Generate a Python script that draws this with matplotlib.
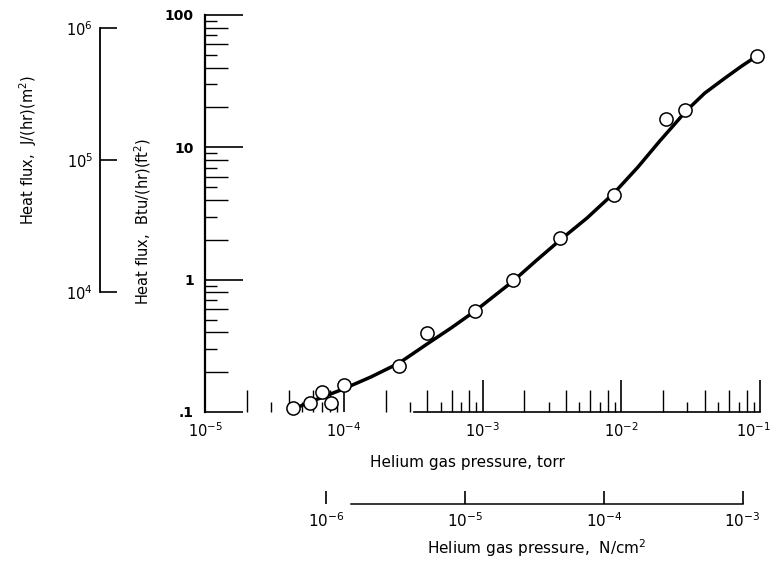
import matplotlib
matplotlib.use('Agg')
import matplotlib.pyplot as plt
from matplotlib.ticker import FixedLocator, FixedFormatter, LogLocator, NullLocator, NullFormatter
from matplotlib.transforms import ScaledTranslation

# measured points: helium pressure (torr) vs heat flux (Btu/(hr)(ft^2))
pressure_torr = [4.3e-5, 5.7e-5, 7.0e-5, 8.1e-5, 1.0e-4, 2.5e-4, 4.0e-4,
                 8.8e-4, 1.66e-3, 3.6e-3, 8.9e-3, 2.1e-2, 2.9e-2, 9.5e-2]
heat_flux_btu = [0.107, 0.117, 0.141, 0.117, 0.160, 0.222, 0.394,
                 0.58, 0.99, 2.06, 4.35, 16.4, 19.1, 49.0]

# faired curve
curve_torr = [4.31e-5, 6.2e-5, 9.9e-5, 1.57e-4, 2.5e-4, 3.98e-4, 5.93e-4,
              8.83e-4, 1.66e-3, 2.47e-3, 3.62e-3, 5.66e-3, 8.87e-3, 1.32e-2,
              1.90e-2, 2.32e-2, 2.93e-2, 4.0e-2, 5.6e-2, 7.4e-2, 9.5e-2]
curve_btu = [0.105, 0.123, 0.149, 0.184, 0.234, 0.326, 0.431,
             0.579, 0.975, 1.41, 1.99, 2.92, 4.51, 7.10,
             11.2, 14.2, 18.8, 25.7, 33.4, 41.2, 49.0]

x_ticks = [1e-5, 1e-4, 1e-3, 1e-2, 1e-1]
x_tick_labels = [r'$\mathregular{10^{-5}}$', r'$\mathregular{10^{-4}}$', r'$\mathregular{10^{-3}}$',
                 r'$\mathregular{10^{-2}}$', r'$\mathregular{10^{-1}}$']
y_ticks = [0.1, 1, 10, 100]
y_tick_labels = ['.1', '1', '10', '100']

# second scales (SI units)
TORR_TO_N_CM2 = 0.0133322
si_x_ticks = [1e-6, 1e-5, 1e-4, 1e-3]
si_x_labels = [r'$\mathregular{10^{-6}}$', r'$\mathregular{10^{-5}}$', r'$\mathregular{10^{-4}}$',
               r'$\mathregular{10^{-3}}$']
si_y_ticks = [1e4, 1e5, 1e6]
si_y_labels = [r'$\mathregular{10^{4}}$', r'$\mathregular{10^{5}}$', r'$\mathregular{10^{6}}$']

W, H = 776, 562


def box(left, top, right, bottom):
    """pixel box -> figure fraction rect"""
    return [left / W, 1 - bottom / H, (right - left) / W, (bottom - top) / H]


fig = plt.figure(figsize=(W / 100, H / 100), dpi=100)

# odd minor ticks (short) sit on their own invisible axes behind the main one
ax_odd = fig.add_axes(box(205, 15, 760, 412), frameon=False)
ax_odd.set_xscale('log')
ax_odd.set_yscale('log')
ax_odd.set_xlim(1e-5, 1e-1)
ax_odd.set_ylim(0.1, 100)
for axis in (ax_odd.xaxis, ax_odd.yaxis):
    axis.set_major_locator(NullLocator())
    axis.set_minor_locator(LogLocator(base=10, subs=(3, 5, 7, 9)))
    axis.set_minor_formatter(NullFormatter())
ax_odd.tick_params(axis='x', which='minor', direction='in', length=7.5, width=1.0)
ax_odd.tick_params(axis='y', which='minor', direction='in', length=8.5, width=1.0)

ax = fig.add_axes(box(205, 15, 760, 412))
ax.patch.set_visible(False)
ax.set_xscale('log')
ax.set_yscale('log')
ax.set_xlim(1e-5, 1e-1)
ax.set_ylim(0.1, 100)

ax.plot(curve_torr, curve_btu, color='black', lw=2.5, solid_capstyle='round',
        solid_joinstyle='round', zorder=2)
ax.plot(pressure_torr, heat_flux_btu, 'o', ms=9.5, mfc='white', mec='black', mew=1.1,
        zorder=3, clip_on=False)

for s in ('top', 'right'):
    ax.spines[s].set_visible(False)
ax.spines['left'].set_linewidth(1.6)
ax.spines['bottom'].set_linewidth(1.2)
ax.spines['bottom'].set_bounds(3.2e-4, 1e-1)

ax.xaxis.set_major_locator(FixedLocator(x_ticks))
ax.xaxis.set_major_formatter(FixedFormatter(x_tick_labels))
ax.xaxis.set_minor_locator(LogLocator(base=10, subs=(2, 4, 6, 8)))
ax.xaxis.set_minor_formatter(NullFormatter())
ax.yaxis.set_major_locator(FixedLocator(y_ticks))
ax.yaxis.set_major_formatter(FixedFormatter(y_tick_labels))
ax.yaxis.set_minor_locator(LogLocator(base=10, subs=(2, 4, 6, 8)))
ax.yaxis.set_minor_formatter(NullFormatter())

ax.tick_params(axis='x', which='major', direction='in', length=23, width=1.2, pad=7, labelsize=10.5)
ax.tick_params(axis='x', which='minor', direction='in', length=15.5, width=1.0)
ax.tick_params(axis='y', which='major', direction='in', length=27, width=1.2, pad=8, labelsize=10)
ax.tick_params(axis='y', which='minor', direction='in', length=16.5, width=1.0)
for lab in ax.get_yticklabels():
    lab.set_fontweight('bold')

# the last torr label sits a little left of its tick, as in the original
last = ax.xaxis.get_majorticklabels()[-1]
last.set_transform(last.get_transform() + ScaledTranslation(-7 / 100, 0, fig.dpi_scale_trans))

# J/(hr)(m^2) scale on the far left
ax_j = fig.add_axes(box(100, 28, 101, 292))
ax_j.patch.set_visible(False)
for s in ('top', 'right', 'bottom'):
    ax_j.spines[s].set_visible(False)
ax_j.spines['left'].set_linewidth(1.3)
ax_j.xaxis.set_visible(False)
ax_j.set_yscale('log')
ax_j.set_ylim(1e4, 1e6)
ax_j.yaxis.set_major_locator(FixedLocator(si_y_ticks))
ax_j.yaxis.set_major_formatter(FixedFormatter(si_y_labels))
ax_j.yaxis.set_minor_locator(NullLocator())
ax_j.tick_params(axis='y', direction='in', length=12, width=1.2, pad=5, labelsize=10.5)

# N/cm^2 scale under the torr axis
ax_n = fig.add_axes(box(205, 503, 760, 504))
ax_n.patch.set_visible(False)
for s in ('top', 'right', 'left'):
    ax_n.spines[s].set_visible(False)
ax_n.spines['bottom'].set_linewidth(1.1)
ax_n.yaxis.set_visible(False)
ax_n.set_xscale('log')
ax_n.set_xlim(1e-5 * TORR_TO_N_CM2, 1e-1 * TORR_TO_N_CM2)
ax_n.spines['bottom'].set_bounds(1.5e-6, 1e-3)
ax_n.xaxis.set_major_locator(FixedLocator(si_x_ticks))
ax_n.xaxis.set_major_formatter(FixedFormatter(si_x_labels))
ax_n.xaxis.set_minor_locator(NullLocator())
ax_n.tick_params(axis='x', direction='in', length=9.5, width=1.2, pad=5, labelsize=11)

# axis titles
fig.text(467 / W, 1 - 462 / H, 'Helium gas pressure, torr', ha='center', va='center', fontsize=11)
fig.text(537 / W, 1 - 548 / H, r'Helium gas pressure,  N/cm$^2$', ha='center', va='center', fontsize=11)
fig.text(143 / W, 1 - 221 / H, r'Heat flux,  Btu/(hr)(ft$^2$)', rotation=90,
         ha='center', va='center', fontsize=10.5)
fig.text(28 / W, 1 - 150 / H, r'Heat flux,  J/(hr)(m$^2$)', rotation=90,
         ha='center', va='center', fontsize=10.5)

fig.savefig('out.png', dpi=100)
